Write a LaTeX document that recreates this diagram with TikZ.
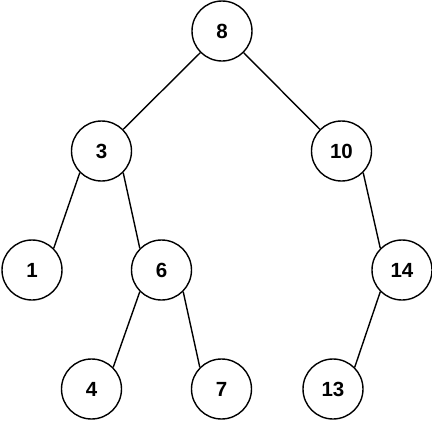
\documentclass[tikz,border=0pt]{standalone}
\usepackage{fontspec}
\setmainfont{Liberation Sans}
\begin{document}
\begin{tikzpicture}[x=1pt,y=-1pt,
  tnode/.style={circle,draw=black,line width=1.4pt,minimum size=60pt,inner sep=0pt,font=\fontsize{20.5}{22}\selectfont\bfseries},
  tedge/.style={line width=1.4pt}]
\useasboundingbox (0,0) rectangle (432,421);
\node[tnode] (n8) at (222,31) {8};
\node[tnode] (n3) at (101.5,151) {3};
\node[tnode] (n10) at (341.5,151) {10};
\node[tnode] (n1) at (32,270) {1};
\node[tnode] (n6) at (161.5,270) {6};
\node[tnode] (n14) at (402,270) {14};
\node[tnode] (n4) at (91.5,389) {4};
\node[tnode] (n7) at (221.5,389) {7};
\node[tnode] (n13) at (333,389) {13};
\draw[tedge] (n8.south west) -- (n3.north east);
\draw[tedge] (n8.south east) -- (n10.north west);
\draw[tedge] (n3.south west) -- (n1.north east);
\draw[tedge] (n3.south east) -- (n6.north west);
\draw[tedge] (n10.south east) -- (n14.north west);
\draw[tedge] (n6.south west) -- (n4.north east);
\draw[tedge] (n6.south east) -- (n7.north west);
\draw[tedge] (n14.south west) -- (n13.north east);
\end{tikzpicture}
\end{document}
